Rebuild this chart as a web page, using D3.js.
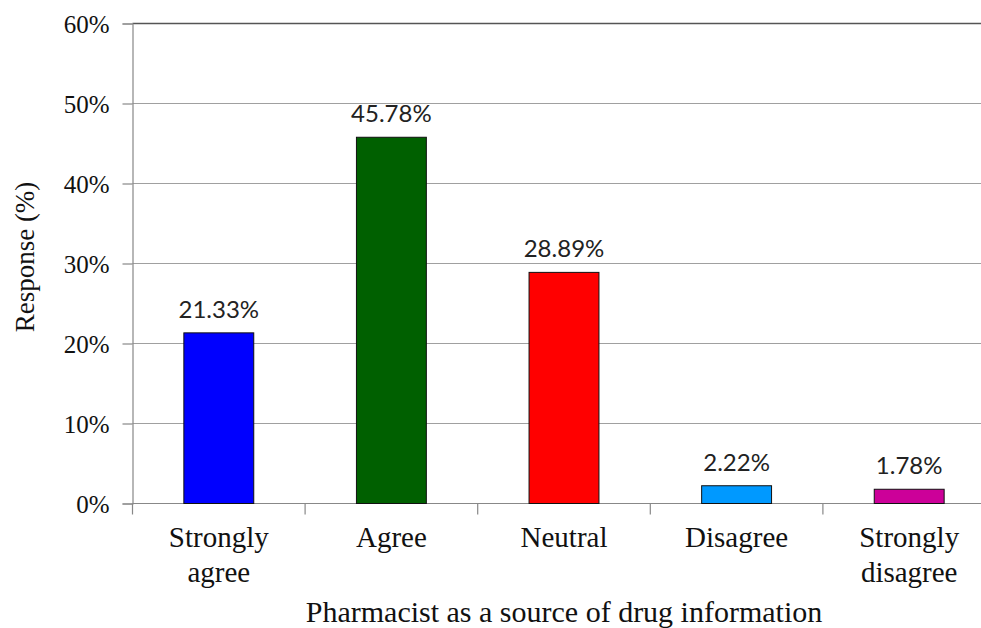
<!DOCTYPE html>
<html>
<head>
<meta charset="utf-8">
<script src="https://cdn.jsdelivr.net/npm/d3@7/dist/d3.min.js"></script>
<style>
  html, body { margin: 0; padding: 0; background: #fff; }
  svg { display: block; }
</style>
</head>
<body>
<svg id="chart" width="981" height="628"></svg>
<script>
const categories = [["Strongly", "agree"], ["Agree"], ["Neutral"], ["Disagree"], ["Strongly", "disagree"]];
const values = [21.33, 45.78, 28.89, 2.22, 1.78];
const valueLabels = ["21.33%", "45.78%", "28.89%", "2.22%", "1.78%"];
const colors = ["#0000FF", "#006000", "#FF0000", "#0099FF", "#CC0099"];
const yTicks = [0, 10, 20, 30, 40, 50, 60];
const yTickLabels = ["0%", "10%", "20%", "30%", "40%", "50%", "60%"];
const xTitle = "Pharmacist as a source of drug information";
const yTitle = "Response (%)";

(function () {
const svg = d3.select("#chart");
const mLeft = 132.5, mRight = 995.5, mTop = 23.5, mBottom = 503.5;
const serif = "'Liberation Serif', 'Times New Roman', serif";

const x = d3.scaleBand()
  .domain(d3.range(values.length))
  .range([mLeft, mRight])
  .paddingInner(0.595)
  .paddingOuter(0.2975);

const y = d3.scaleLinear().domain([0, 60]).range([mBottom, mTop]);

// gridlines
svg.append("g")
  .selectAll("line")
  .data(yTicks.filter(d => d > 0))
  .join("line")
  .attr("x1", mLeft).attr("x2", mRight)
  .attr("y1", d => y(d)).attr("y2", d => y(d))
  .attr("stroke", d => d === 60 ? "#555" : "#a0a0a0")
  .attr("stroke-width", d => d === 60 ? 1.5 : 1.2);

// y axis
const yAxis = d3.axisLeft(y).tickValues(yTicks).tickSize(10).tickFormat((d, i) => yTickLabels[i]);
const gy = svg.append("g").attr("transform", `translate(${mLeft},0)`).call(yAxis);
gy.select(".domain").attr("stroke", "#888").attr("stroke-width", 1.2);
gy.selectAll(".tick line").attr("stroke", "#888").attr("stroke-width", 1.2);
gy.selectAll(".tick text")
  .attr("x", -23)
  .attr("dy", "0.35em")
  .attr("fill", "#111")
  .style("font-family", serif)
  .style("font-size", "25px");

// x axis line and ticks at category boundaries
const boundaries = d3.range(values.length + 1).map(i => mLeft + i * x.step());
svg.append("line")
  .attr("x1", mLeft).attr("x2", mRight)
  .attr("y1", mBottom).attr("y2", mBottom)
  .attr("stroke", "#888").attr("stroke-width", 1.2);
svg.append("g").selectAll("line")
  .data(boundaries)
  .join("line")
  .attr("x1", d => d).attr("x2", d => d)
  .attr("y1", mBottom).attr("y2", mBottom + 11)
  .attr("stroke", "#888").attr("stroke-width", 1.2);

// bars
svg.append("g").selectAll("rect")
  .data(values)
  .join("rect")
  .attr("x", (d, i) => x(i))
  .attr("width", x.bandwidth())
  .attr("y", d => y(d))
  .attr("height", d => y(0) - y(d))
  .attr("fill", (d, i) => colors[i])
  .attr("stroke", "#111")
  .attr("stroke-width", 1);

// value labels
svg.append("g").selectAll("text")
  .data(values)
  .join("text")
  .attr("x", (d, i) => x(i) + x.bandwidth() / 2)
  .attr("y", d => y(d) - 15)
  .attr("text-anchor", "middle")
  .attr("fill", "#222")
  .style("font-family", "Lato, 'Open Sans', sans-serif")
  .style("font-size", "24px")
  .text((d, i) => valueLabels[i]);

// category labels
const cat = svg.append("g").selectAll("text")
  .data(categories)
  .join("text")
  .attr("x", (d, i) => x(i) + x.bandwidth() / 2)
  .attr("y", 547)
  .attr("text-anchor", "middle")
  .attr("fill", "#111")
  .style("font-family", serif)
  .style("font-size", "29px");
cat.selectAll("tspan")
  .data(d => d)
  .join("tspan")
  .attr("x", function() { return d3.select(this.parentNode).attr("x"); })
  .attr("dy", (d, i) => i === 0 ? 0 : 35)
  .text(d => d);

// x title
svg.append("text")
  .attr("x", (mLeft + mRight) / 2)
  .attr("y", 622)
  .attr("text-anchor", "middle")
  .attr("fill", "#111")
  .style("font-family", serif)
  .style("font-size", "30px")
  .text(xTitle);

// y title
svg.append("text")
  .attr("transform", `translate(34, 257) rotate(-90)`)
  .attr("text-anchor", "middle")
  .attr("fill", "#111")
  .style("font-family", serif)
  .style("font-size", "27px")
  .text(yTitle);
})();
</script>
</body>
</html>
